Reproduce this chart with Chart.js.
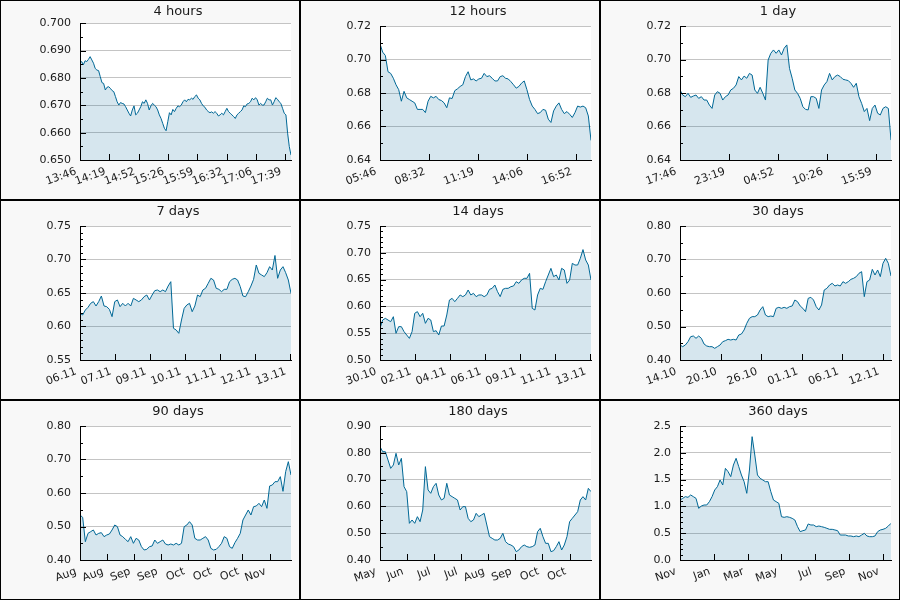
<!DOCTYPE html>
<html><head><meta charset="utf-8">
<script src="https://cdn.jsdelivr.net/npm/chart.js@4.4.0/dist/chart.umd.min.js"></script>
<style>
html,body{margin:0;padding:0;background:#000;width:900px;height:600px;overflow:hidden}
.cell{position:absolute;width:298px;height:198px;background:#f8f8f8}
canvas{display:block}
</style></head><body>
<script>
const panelTitles = ["4 hours","12 hours","1 day","7 days","14 days","30 days","90 days","180 days","360 days"];

const labels4h = ["13:46","14:19","14:52","15:26","15:59","16:32","17:06","17:39"];
const labels12h = ["05:46","08:32","11:19","14:06","16:52"];
const labels1d = ["17:46","23:19","04:52","10:26","15:59"];
const labels7d = ["06.11","07.11","09.11","10.11","11.11","12.11","13.11"];
const labels14d = ["30.10","02.11","04.11","06.11","09.11","11.11","13.11"];
const labels30d = ["14.10","20.10","26.10","01.11","06.11","12.11"];
const labels90d = ["Aug","Aug","Sep","Sep","Oct","Oct","Oct","Nov"];
const labels180d = ["May","Jun","Jul","Jul","Aug","Sep","Oct","Oct"];
const labels360d = ["Nov","Jan","Mar","May","Jul","Sep","Nov"];

const values4h = [0.6854,0.6860,0.6848,0.6863,0.6860,0.6868,0.6878,0.6866,0.6854,0.6835,0.6829,0.6827,0.6805,0.6783,0.6780,0.6756,0.6766,0.6768,0.6762,0.6754,0.6750,0.6732,0.6713,0.6701,0.6710,0.6707,0.6705,0.6695,0.6683,0.6671,0.6661,0.6683,0.6698,0.6665,0.6671,0.6683,0.6695,0.6713,0.6707,0.6720,0.6707,0.6683,0.6698,0.6707,0.6701,0.6695,0.6683,0.6665,0.6652,0.6634,0.6616,0.6607,0.6640,0.6673,0.6665,0.6685,0.6677,0.6689,0.6698,0.6695,0.6701,0.6713,0.6720,0.6713,0.6722,0.6720,0.6726,0.6722,0.6732,0.6738,0.6726,0.6720,0.6707,0.6698,0.6693,0.6683,0.6677,0.6673,0.6676,0.6671,0.6677,0.6671,0.6661,0.6665,0.6671,0.6665,0.6677,0.6689,0.6677,0.6671,0.6665,0.6659,0.6652,0.6665,0.6671,0.6677,0.6683,0.6698,0.6695,0.6705,0.6707,0.6713,0.6726,0.6720,0.6728,0.6720,0.6701,0.6707,0.6701,0.6701,0.6713,0.6726,0.6720,0.6720,0.6701,0.6713,0.6728,0.6722,0.6713,0.6707,0.6689,0.6671,0.6665,0.6598,0.6549,0.6518];

const values12h = [0.7093,0.7044,0.7024,0.6927,0.6917,0.6888,0.6849,0.6820,0.6751,0.6810,0.6771,0.6761,0.6751,0.6741,0.6702,0.6702,0.6702,0.6683,0.6751,0.6780,0.6771,0.6780,0.6761,0.6755,0.6741,0.6712,0.6771,0.6767,0.6814,0.6825,0.6839,0.6849,0.6898,0.6927,0.6878,0.6884,0.6872,0.6884,0.6888,0.6917,0.6898,0.6903,0.6888,0.6872,0.6872,0.6898,0.6903,0.6888,0.6884,0.6868,0.6849,0.6829,0.6839,0.6859,0.6872,0.6820,0.6761,0.6722,0.6702,0.6677,0.6683,0.6702,0.6697,0.6644,0.6624,0.6693,0.6722,0.6741,0.6702,0.6677,0.6689,0.6673,0.6654,0.6683,0.6722,0.6716,0.6722,0.6712,0.6663,0.6517];

const values1d = [0.6818,0.6788,0.6778,0.6798,0.6774,0.6782,0.6788,0.6768,0.6778,0.6758,0.6758,0.6728,0.6708,0.6788,0.6808,0.6798,0.6758,0.6778,0.6788,0.6818,0.6828,0.6848,0.6898,0.6878,0.6901,0.6888,0.6917,0.6907,0.6818,0.6798,0.6834,0.6798,0.6758,0.6997,0.7037,0.7057,0.7037,0.7057,0.7027,0.7067,0.7087,0.6947,0.6888,0.6818,0.6798,0.6768,0.6718,0.6702,0.6699,0.6778,0.6778,0.6768,0.6708,0.6818,0.6848,0.6868,0.6917,0.6878,0.6898,0.6907,0.6898,0.6882,0.6878,0.6874,0.6858,0.6834,0.6858,0.6778,0.6738,0.6689,0.6708,0.6635,0.6708,0.6728,0.6679,0.6669,0.6708,0.6718,0.6708,0.6519];

const values7d = [0.6197,0.6172,0.6246,0.6286,0.6346,0.6371,0.6306,0.6371,0.6455,0.6306,0.6296,0.6256,0.6147,0.6371,0.6396,0.6296,0.6346,0.6306,0.6346,0.6306,0.6420,0.6396,0.6371,0.6396,0.6445,0.6470,0.6396,0.6470,0.6535,0.6545,0.6520,0.6545,0.6520,0.6604,0.6669,0.5973,0.5948,0.5898,0.6097,0.6271,0.6321,0.6346,0.6221,0.6306,0.6470,0.6445,0.6545,0.6570,0.6644,0.6719,0.6694,0.6570,0.6555,0.6520,0.6555,0.6555,0.6669,0.6704,0.6719,0.6694,0.6595,0.6455,0.6445,0.6520,0.6604,0.6704,0.6918,0.6794,0.6769,0.6744,0.6803,0.6893,0.6843,0.7060,0.6719,0.6843,0.6893,0.6803,0.6694,0.6495];

const values14d = [0.5591,0.5746,0.5777,0.5746,0.5715,0.5808,0.5498,0.5622,0.5622,0.5529,0.5466,0.5404,0.5529,0.5871,0.5902,0.5808,0.5871,0.5684,0.5777,0.5746,0.5529,0.5547,0.5466,0.5634,0.5634,0.5840,0.6119,0.6150,0.6088,0.6150,0.6213,0.6182,0.6213,0.6306,0.6213,0.6244,0.6182,0.6213,0.6213,0.6182,0.6213,0.6318,0.6337,0.6399,0.6275,0.6182,0.6318,0.6337,0.6337,0.6368,0.6381,0.6461,0.6430,0.6493,0.6524,0.6524,0.6617,0.5964,0.5933,0.6213,0.6337,0.6318,0.6461,0.6586,0.6710,0.6555,0.6586,0.6493,0.6710,0.6679,0.6430,0.6493,0.6803,0.6772,0.6772,0.6897,0.7060,0.6866,0.6772,0.6493];

const values30d = [0.4448,0.4398,0.4448,0.4547,0.4697,0.4716,0.4647,0.4716,0.4647,0.4478,0.4418,0.4398,0.4398,0.4348,0.4398,0.4448,0.4547,0.4577,0.4617,0.4597,0.4617,0.4597,0.4746,0.4776,0.4896,0.5095,0.5244,0.5294,0.5294,0.5343,0.5493,0.5592,0.5343,0.5294,0.5313,0.5294,0.5542,0.5572,0.5542,0.5572,0.5542,0.5592,0.5612,0.5791,0.5741,0.5612,0.5542,0.5443,0.5841,0.5871,0.5791,0.5592,0.5493,0.5642,0.6090,0.6139,0.6239,0.6289,0.6209,0.6239,0.6209,0.6338,0.6289,0.6338,0.6408,0.6438,0.6488,0.6587,0.6637,0.5891,0.6338,0.6388,0.6706,0.6537,0.6687,0.6488,0.6886,0.7035,0.6886,0.6507];

const values90d = [0.5343,0.5274,0.4547,0.4796,0.4846,0.4896,0.4746,0.4796,0.4816,0.4697,0.4746,0.4776,0.4896,0.5045,0.4995,0.4746,0.4697,0.4617,0.4547,0.4697,0.4498,0.4647,0.4597,0.4398,0.4299,0.4318,0.4398,0.4418,0.4597,0.4498,0.4547,0.4597,0.4478,0.4448,0.4478,0.4448,0.4498,0.4448,0.4498,0.4995,0.5045,0.5144,0.5045,0.4647,0.4597,0.4597,0.4647,0.4697,0.4597,0.4348,0.4299,0.4318,0.4398,0.4498,0.4697,0.4647,0.4398,0.4348,0.4517,0.4647,0.4796,0.5194,0.5343,0.5493,0.5343,0.5592,0.5612,0.5692,0.5592,0.5791,0.5542,0.6209,0.6239,0.6338,0.6338,0.6488,0.6050,0.6637,0.6935,0.6537];

const values180d = [0.8229,0.8042,0.8042,0.7731,0.7420,0.7545,0.7980,0.7545,0.7794,0.6736,0.6550,0.5368,0.5493,0.5368,0.5617,0.5430,0.5866,0.7483,0.6612,0.6488,0.6736,0.6861,0.6425,0.6239,0.6301,0.6861,0.6425,0.6363,0.6301,0.6239,0.5866,0.5990,0.5990,0.5555,0.5430,0.5493,0.5741,0.5617,0.5679,0.5741,0.5306,0.4871,0.4808,0.4746,0.4746,0.4808,0.4995,0.4684,0.4597,0.4560,0.4498,0.4311,0.4373,0.4498,0.4560,0.4498,0.4473,0.4498,0.4560,0.5057,0.5182,0.4871,0.4622,0.4622,0.4311,0.4348,0.4498,0.4684,0.4373,0.4560,0.4871,0.5430,0.5555,0.5679,0.5803,0.6239,0.6363,0.6239,0.6674,0.6550];

const values360d = [1.119,1.150,1.182,1.169,1.213,1.182,1.150,0.964,1.007,1.026,1.026,1.088,1.182,1.306,1.368,1.493,1.399,1.710,1.648,1.555,1.772,1.897,1.741,1.586,1.461,1.244,1.679,2.301,1.959,1.586,1.524,1.493,1.461,1.461,1.275,1.119,1.088,1.057,0.808,0.796,0.808,0.796,0.777,0.746,0.622,0.529,0.547,0.560,0.672,0.653,0.653,0.622,0.634,0.622,0.609,0.591,0.572,0.572,0.560,0.547,0.466,0.466,0.466,0.448,0.448,0.435,0.448,0.435,0.466,0.498,0.448,0.435,0.435,0.448,0.529,0.560,0.572,0.591,0.634,0.684];

const panels = [
  {title:panelTitles[0], values:values4h,  labels:labels4h,  span:240,  tickStep:33.33, yMin:0.65, yMax:0.70, yStep:0.01, yMinor:0.005, dec:3, gap:3.7},
  {title:panelTitles[1], values:values12h, labels:labels12h, span:720,  tickStep:166.9, yMin:0.64, yMax:0.72, yStep:0.02, yMinor:0.01, dec:2, gap:6.4},
  {title:panelTitles[2], values:values1d,  labels:labels1d,  span:1440, tickStep:333.8, yMin:0.64, yMax:0.72, yStep:0.02, yMinor:0.01, dec:2, gap:6.4},
  {title:panelTitles[3], values:values7d,  labels:labels7d,  span:7,    tickStep:7/6.04, yMin:0.55, yMax:0.75, yStep:0.05, yMinor:0.01, dec:2, gap:6.4},
  {title:panelTitles[4], values:values14d, labels:labels14d, span:14,   tickStep:14/6.04, yMin:0.50, yMax:0.75, yStep:0.05, yMinor:0.01, dec:2, gap:6.4},
  {title:panelTitles[5], values:values30d, labels:labels30d, span:31,   tickStep:5.96, yMin:0.40, yMax:0.80, yStep:0.1, yMinor:0.05, dec:2, gap:6.4},
  {title:panelTitles[6], values:values90d, labels:labels90d, span:90,   tickStep:11.55, yMin:0.40, yMax:0.80, yStep:0.1, yMinor:0.05, dec:2, gap:6.4},
  {title:panelTitles[7], values:values180d,labels:labels180d,span:180,  tickStep:23.1, yMin:0.40, yMax:0.90, yStep:0.1, yMinor:0.05, dec:2, gap:6.4},
  {title:panelTitles[8], values:values360d,labels:labels360d,span:360,  tickStep:57.7, yMin:0, yMax:2.5, yStep:0.5, yMinor:0.1, dec:1, gap:6.4}
];

const FONT = 'DejaVu Sans';
const TEXT = '#1a1a1a';
const measureCtx = document.createElement('canvas').getContext('2d');
measureCtx.font = '11px "DejaVu Sans"';

panels.forEach((p, k) => {
  const cell = document.createElement('div');
  cell.className = 'cell';
  cell.style.left = ((k % 3) * 300 + 1) + 'px';
  cell.style.top = (Math.floor(k / 3) * 200 + 1) + 'px';
  const cv = document.createElement('canvas');
  cv.width = 298; cv.height = 198;
  cv.style.width = '298px'; cv.style.height = '198px';
  cell.appendChild(cv);
  document.body.appendChild(cell);

  const n = p.values.length;
  const pts = p.values.map((v, i) => ({x: p.span * i / (n - 1), y: v}));
  const labelW = measureCtx.measureText(p.yMax.toFixed(p.dec)).width;

  const innerTicks = {
    id: 'innerTicks' + k,
    beforeDraw(chart) {
      const {ctx, chartArea: a} = chart;
      ctx.save();
      ctx.fillStyle = '#ffffff';
      ctx.fillRect(a.left, a.top, a.right - a.left, a.bottom - a.top);
      ctx.restore();
    },
    afterDatasetsDraw(chart) {
      const {ctx, chartArea: a, scales} = chart;
      const xs = scales.x, ys = scales.y;
      ctx.save();
      ctx.strokeStyle = '#000';
      ctx.lineWidth = 1;
      ctx.beginPath();
      const steps = Math.round((p.yMax - p.yMin) / p.yMinor);
      for (let s = 0; s <= steps; s++) {
        const v = p.yMin + s * p.yMinor;
        const r = (v - p.yMin) / p.yStep;
        const major = Math.abs(r - Math.round(r)) < 1e-6;
        const py = Math.round(ys.getPixelForValue(v)) + 0.5;
        ctx.moveTo(a.left, py);
        ctx.lineTo(a.left + (major ? 6 : 3), py);
      }
      p.labels.forEach((l, i) => {
        const px = Math.round(xs.getPixelForValue(i * p.tickStep)) + 0.5;
        ctx.moveTo(px, a.bottom);
        ctx.lineTo(px, a.bottom - 6);
      });
      ctx.stroke();
      ctx.restore();
    }
  };

  new Chart(cv, {
    type: 'line',
    data: {datasets: [{
      data: pts,
      borderColor: '#006896',
      borderWidth: 1,
      backgroundColor: 'rgba(0,100,150,0.16)',
      fill: 'start',
      pointRadius: 0,
      tension: 0
    }]},
    options: {
      responsive: false,
      animation: false,
      devicePixelRatio: 1,
      layout: {padding: {left: 64, right: 8, top: 0, bottom: 0}},
      plugins: {
        legend: {display: false},
        tooltip: {enabled: false},
        title: {display: true, text: p.title, color: TEXT,
          font: {family: FONT, size: 13, weight: 'normal'},
          padding: {top: 3, bottom: p.gap}}
      },
      scales: {
        x: {
          type: 'linear', min: 0, max: p.span,
          grid: {display: false},
          border: {display: true, color: '#000', width: 1, z: 1},
          afterBuildTicks: s => { s.ticks = p.labels.map((l, i) => ({value: i * p.tickStep})); },
          afterFit: s => { s.height = 39; },
          ticks: {autoSkip: false, minRotation: 20, maxRotation: 20, padding: -3, labelOffset: -4,
            color: TEXT, font: {family: FONT, size: 11},
            callback: (v, i) => p.labels[i]}
        },
        y: {
          min: p.yMin, max: p.yMax,
          grid: {color: '#c4c4c4', drawTicks: false},
          border: {display: true, color: '#000', width: 1, z: 1},
          afterFit: s => { s.width = 15; },
          ticks: {stepSize: p.yStep, mirror: true, crossAlign: 'near', padding: -(9 + labelW),
            color: TEXT, font: {family: FONT, size: 11},
            callback: v => Number(v).toFixed(p.dec)}
        }
      }
    },
    plugins: [innerTicks]
  });
});
</script>
</body></html>
